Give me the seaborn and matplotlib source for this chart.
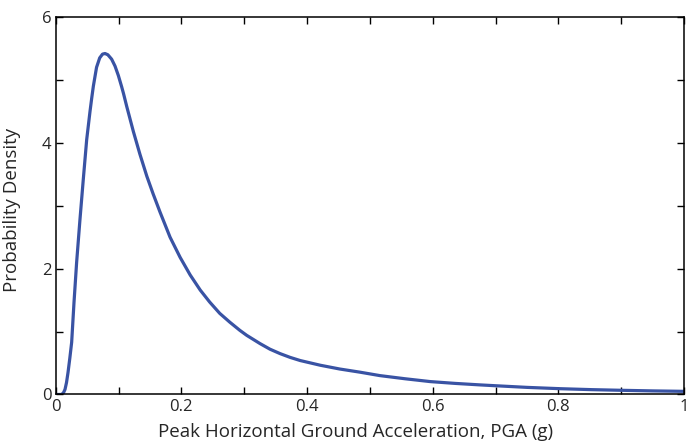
import pandas as pd
import seaborn as sns
import matplotlib.pyplot as plt

# Points
pga = [0.0, 0.0095, 0.0125, 0.0148, 0.0172, 0.0196, 0.0225, 0.0254, 0.0291, 0.0333,
       0.0386, 0.0439, 0.0493, 0.0546, 0.0573, 0.0599, 0.065, 0.070, 0.0745, 0.0785,
       0.083, 0.089, 0.0944, 0.0997, 0.105, 0.108, 0.113, 0.1236, 0.134, 0.145,
       0.155, 0.166, 0.182, 0.198, 0.214, 0.230, 0.245, 0.261, 0.277, 0.293,
       0.304, 0.325, 0.341, 0.357, 0.373, 0.389, 0.421, 0.452, 0.484, 0.516,
       0.556, 0.596, 0.636, 0.676, 0.702, 0.750, 0.803, 0.853, 0.903, 0.950,
       1.0]
density = [0.0, 0.0, 0.03, 0.08, 0.19, 0.35, 0.58, 0.83, 1.46, 2.10,
           2.78, 3.42, 4.05, 4.50, 4.71, 4.90, 5.20, 5.35, 5.41, 5.42,
           5.40, 5.33, 5.22, 5.07, 4.89, 4.78, 4.58, 4.18, 3.82, 3.47,
           3.19, 2.90, 2.50, 2.18, 1.90, 1.66, 1.47, 1.29, 1.15, 1.02,
           0.94, 0.81, 0.72, 0.65, 0.59, 0.54, 0.465, 0.405, 0.355, 0.30,
           0.25, 0.205, 0.176, 0.152, 0.138, 0.113, 0.092, 0.077, 0.066, 0.057,
           0.05]

x_ticks = [0, 0.2, 0.4, 0.6, 0.8, 1]
x_tick_labels = ['0', '0.2', '0.4', '0.6', '0.8', '1']
y_ticks = [0, 2, 4, 6]
y_tick_labels = ['0', '2', '4', '6']

df = pd.DataFrame({'PGA': pga, 'Density': density})

sns.set_style('ticks')
plt.rcParams['font.family'] = ['Open Sans', 'DejaVu Sans']

fig = plt.figure(figsize=(6.92, 4.42), dpi=100)
ax = fig.add_axes([0.0805, 0.1075, 0.908, 0.854])

sns.lineplot(data=df, x='PGA', y='Density', color='#3953a4', linewidth=2.3, ax=ax)

ax.set_xlim(0, 1)
ax.set_ylim(0, 6)
ax.set_xticks(x_ticks)
ax.set_xticklabels(x_tick_labels)
ax.set_xticks([0.1, 0.3, 0.5, 0.7, 0.9], minor=True)
ax.set_yticks(y_ticks)
ax.set_yticklabels(y_tick_labels)
ax.set_yticks([1, 3, 5], minor=True)

ax.tick_params(which='both', direction='in', top=True, right=True,
               length=5, width=1, color='black', labelsize=12, pad=3)

for s in ax.spines.values():
    s.set_linewidth(1.1)
    s.set_color('black')

ax.set_xlabel('Peak Horizontal Ground Acceleration, PGA (g)', fontsize=13.5)
ax.set_ylabel('Probability Density', fontsize=13.5)
ax.xaxis.set_label_coords(0.477, -0.075, transform=ax.transAxes)
ax.xaxis.label.set_va('top')
ax.yaxis.set_label_coords(-0.056, 0.49, transform=ax.transAxes)

fig.savefig('out.png', dpi=100)
